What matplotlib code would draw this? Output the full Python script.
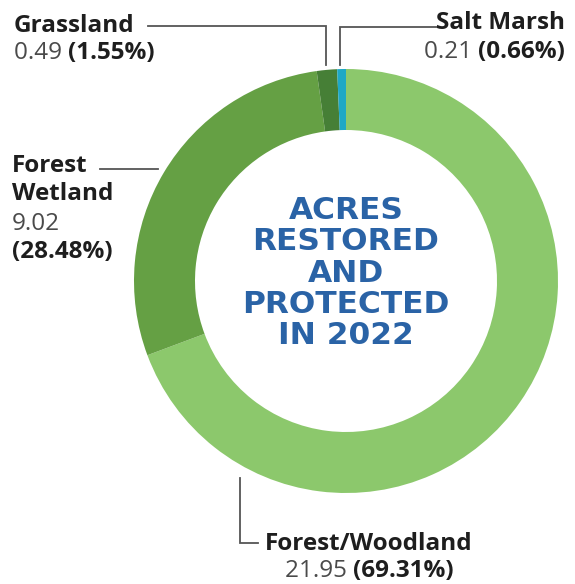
import matplotlib.pyplot as plt

# data
categories = ['Forest/Woodland', 'Forest Wetland', 'Grassland', 'Salt Marsh']
acres = [21.95, 9.02, 0.49, 0.21]
shares = [69.31, 28.48, 1.55, 0.66]
colors = ['#8cc86c', '#65a044', '#467f36', '#1ea8c6']
center_title = 'ACRES\nRESTORED\nAND\nPROTECTED\nIN 2022'

W, H = 575, 584
LABEL_FONT = ['Open Sans', 'DejaVu Sans']
FS = 17.5
DARK = '#1e1e1e'
GREY = '#4a4a4a'
LINE = '#555555'

fig = plt.figure(figsize=(W / 100, H / 100), dpi=100)
ax = fig.add_axes([0, 0, 1, 1])

# donut, light green slice starts at 12 o'clock going clockwise
ax.pie(acres, colors=colors, startangle=90, counterclock=False,
       center=(346, H - 281), radius=212,
       wedgeprops=dict(width=61, linewidth=0))
ax.set_xlim(0, W)
ax.set_ylim(0, H)
ax.set_aspect('equal')
ax.axis('off')

ax.text(346, H - 273, center_title, ha='center', va='center',
        fontsize=22.5, fontweight='heavy', color='#2a63a6',
        family=['DejaVu Sans'], linespacing=1.1)

renderer = fig.canvas.get_renderer()


def value_line(x, y, value, share, ha):
    # regular number followed by a bold percentage on the same baseline
    t1 = ax.text(0, 0, f'{value:.2f} ', fontsize=FS, color=GREY,
                 family=LABEL_FONT, va='baseline')
    t2 = ax.text(0, 0, f'({share:.2f}%)', fontsize=FS, color=DARK,
                 family=LABEL_FONT, fontweight='bold', va='baseline')
    w1 = t1.get_window_extent(renderer).width
    w2 = t2.get_window_extent(renderer).width
    total = w1 + w2
    if ha == 'left':
        start = x
    elif ha == 'right':
        start = x - total
    else:
        start = x - total / 2
    t1.set_position((start, H - y))
    t2.set_position((start + w1, H - y))


def label(x, y, text, ha='left'):
    ax.text(x, H - y, text, fontsize=FS, fontweight='bold', color=DARK,
            family=LABEL_FONT, ha=ha, va='baseline')


def leader(xs, ys):
    ax.plot(xs, [H - v for v in ys], color=LINE, lw=1.3,
            solid_joinstyle='miter')


# Grassland
label(14, 32, categories[2])
value_line(14, 59, acres[2], shares[2], 'left')
leader([148, 326, 326], [26, 26, 65])

# Salt Marsh
label(565, 29, categories[3], ha='right')
value_line(565, 58, acres[3], shares[3], 'right')
leader([340, 340, 437], [65, 27, 27])

# Forest Wetland
label(12, 172, 'Forest')
label(12, 200, 'Wetland')
ax.text(12, H - 230, f'{acres[1]:.2f}', fontsize=FS, color=GREY,
        family=LABEL_FONT, va='baseline')
ax.text(12, H - 258, f'({shares[1]:.2f}%)', fontsize=FS, fontweight='bold',
        color=DARK, family=LABEL_FONT, va='baseline')
leader([100, 158], [169, 169])

# Forest/Woodland
label(369, 550, categories[0], ha='center')
value_line(369, 577, acres[0], shares[0], 'center')
leader([240, 240, 258], [478, 543, 543])

fig.savefig('out.png', dpi=100)
